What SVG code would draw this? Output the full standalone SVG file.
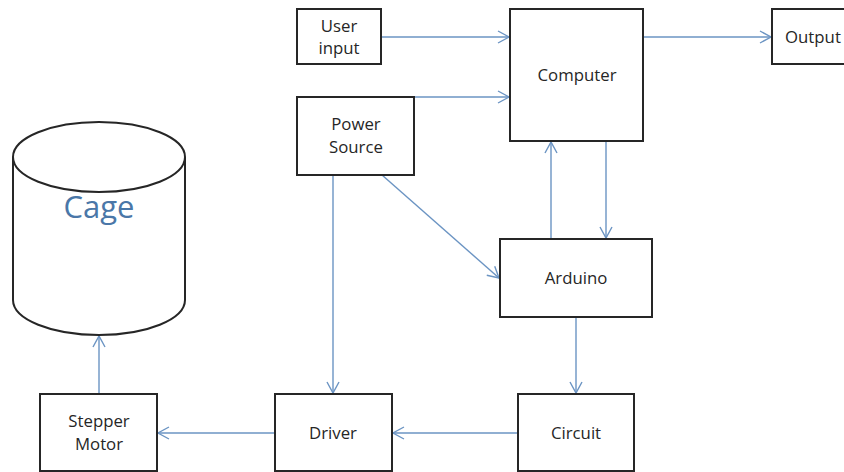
<svg xmlns="http://www.w3.org/2000/svg" width="844" height="472" viewBox="0 0 844 472">
<style>
.box{fill:#fff;stroke:#262626;stroke-width:2}
.t{font-family:"Open Sans","Liberation Sans",sans-serif;font-size:16.8px;fill:#262626;text-anchor:middle}
.c{fill:none;stroke:#6b94c3;stroke-width:1.4;marker-end:url(#ah)}
</style>
<defs>
<marker id="ah" markerUnits="userSpaceOnUse" markerWidth="16" markerHeight="16" refX="12" refY="7" orient="auto">
<path d="M1,1 L12,7 L1,13" fill="none" stroke="#6b94c3" stroke-width="1.4"/>
</marker>
</defs>
<rect width="844" height="472" fill="#fff"/>
<g id="connectors">
<line class="c" x1="381" y1="37" x2="509" y2="37"/>
<line class="c" x1="414" y1="97" x2="509" y2="97"/>
<line class="c" x1="643" y1="37" x2="771" y2="37"/>
<line class="c" x1="382" y1="175" x2="499" y2="278"/>
<line class="c" x1="551" y1="239" x2="551" y2="142"/>
<line class="c" x1="606" y1="141" x2="606" y2="238"/>
<line class="c" x1="576" y1="317" x2="576" y2="393"/>
<line class="c" x1="333" y1="175" x2="333" y2="393"/>
<line class="c" x1="517" y1="433" x2="393" y2="433"/>
<line class="c" x1="275" y1="433" x2="158" y2="433"/>
<line class="c" x1="99" y1="394" x2="99" y2="336"/>
</g>
<g id="user-input">
<rect class="box" x="297" y="9" width="84" height="55"/>
<text class="t" x="339" y="32">User</text>
<text class="t" x="339" y="54">input</text>
</g>
<g id="power-source">
<rect class="box" x="297" y="97" width="117" height="78"/>
<text class="t" x="356" y="130">Power</text>
<text class="t" x="356" y="153">Source</text>
</g>
<g id="computer">
<rect class="box" x="510" y="9" width="133" height="132"/>
<text class="t" x="577" y="81">Computer</text>
</g>
<g id="output">
<rect class="box" x="772" y="9" width="80" height="55"/>
<text class="t" x="785" y="43" style="text-anchor:start">Output</text>
</g>
<g id="arduino">
<rect class="box" x="500" y="239" width="152" height="78"/>
<text class="t" x="576" y="284">Arduino</text>
</g>
<g id="circuit">
<rect class="box" x="518" y="394" width="116" height="77"/>
<text class="t" x="576" y="439">Circuit</text>
</g>
<g id="driver">
<rect class="box" x="275" y="394" width="117" height="77"/>
<text class="t" x="333" y="439">Driver</text>
</g>
<g id="stepper-motor">
<rect class="box" x="40" y="394" width="117" height="77"/>
<text class="t" x="99" y="427">Stepper</text>
<text class="t" x="99" y="450">Motor</text>
</g>
<g id="cage">
<path d="M13,157 L13,300 A86,35 0 0 0 185,300 L185,157" fill="#fff" stroke="#262626" stroke-width="2"/>
<ellipse cx="99" cy="157" rx="86" ry="35" fill="#fff" stroke="#262626" stroke-width="2"/>
<text x="99" y="218" style="font-family:'Open Sans','Liberation Sans',sans-serif;font-size:31px;fill:#4a77a8;text-anchor:middle">Cage</text>
</g>
</svg>
